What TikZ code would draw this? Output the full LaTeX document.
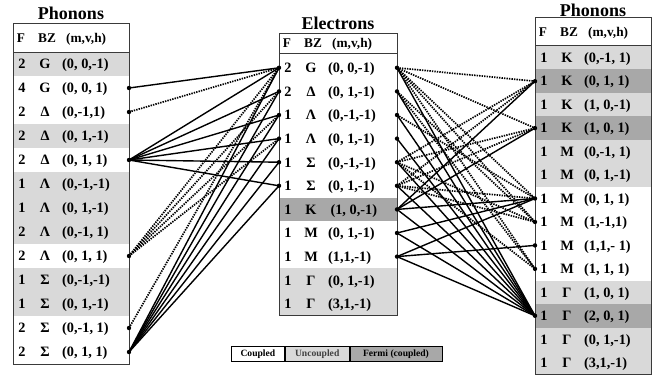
\documentclass[tikz,border=0pt]{standalone}
\usepackage{fontspec}
\setmainfont{Liberation Serif}
\usetikzlibrary{calc}
\definecolor{ltg}{HTML}{D9D9D9}
\definecolor{dkg}{HTML}{A8A8A8}
\definecolor{frame}{HTML}{3A3A3A}

\tikzset{
  cell/.style={inner sep=0pt, font=\fontsize{14.3}{15}\selectfont\bfseries},
  head/.style={inner sep=0pt, font=\fontsize{13.3}{14}\selectfont\bfseries},
  ttl/.style={inner sep=0pt, font=\fontsize{18}{20}\selectfont\bfseries},
  lgd/.style={inner sep=0pt, font=\fontsize{9.6}{10}\selectfont\bfseries},
  frm/.style={draw=frame, line width=1pt},
  cpl/.style={line width=1.4pt},
  ucp/.style={line width=1.7pt, dash pattern=on 1.4pt off 1.1pt},
}

% table geometry: left x, top of first data row, row height, width
\newcommand\tabset[4]{\def\tabx{#1}\def\taby{#2}\def\tabh{#3}\def\tabw{#4}}
% one data row: name, index, fill, F, BZ, (m,v,h)
\newcommand\trow[6]{%
  \pgfmathsetmacro\ytop{\taby+(#2-1)*\tabh}%
  \pgfmathsetmacro\ymid{\ytop+\tabh/2}%
  \fill[#3] (\tabx,\ytop) rectangle ++(\tabw,\tabh);
  \node[cell,anchor=base] (#1f) at (\tabx+9,\ymid+4.8) {#4};
  \node[cell,anchor=base] (#1b) at (\tabx+32,\ymid+4.8) {#5};
  \node[cell,anchor=base west] (#1c) at (\tabx+49,\ymid+4.8) {#6};
  \coordinate (#1w) at (\tabx,\ymid);
  \coordinate (#1e) at (\tabx+\tabw,\ymid);
}
% header row: name prefix, left x, baseline y
\newcommand\thead[3]{%
  \node[head,anchor=base] (#1hf) at (#2+8,#3) {F};
  \node[head,anchor=base] (#1hb) at (#2+34,#3) {BZ};
  \node[head,anchor=base west] (#1hc) at (#2+53,#3) {(m,v,h)};
}

\begin{document}
\begin{tikzpicture}[x=1pt,y=-1pt]
\useasboundingbox (0,0) rectangle (666,381);

% ---------- left table: phonons ----------
\node[ttl] (ltitle) at (71,13) {Phonons};
\tabset{13}{52}{24}{116}
\trow{L1}{1}{ltg}{2}{G}{(0, 0,-1)}
\trow{L2}{2}{white}{4}{G}{(0, 0, 1)}
\trow{L3}{3}{white}{2}{Δ}{(0,-1,1)}
\trow{L4}{4}{ltg}{2}{Δ}{(0, 1,-1)}
\trow{L5}{5}{white}{2}{Δ}{(0, 1, 1)}
\trow{L6}{6}{ltg}{1}{Λ}{(0,-1,-1)}
\trow{L7}{7}{ltg}{1}{Λ}{(0, 1,-1)}
\trow{L8}{8}{ltg}{2}{Λ}{(0,-1, 1)}
\trow{L9}{9}{white}{2}{Λ}{(0, 1, 1)}
\trow{L10}{10}{ltg}{1}{Σ}{(0,-1,-1)}
\trow{L11}{11}{ltg}{1}{Σ}{(0, 1,-1)}
\trow{L12}{12}{white}{2}{Σ}{(0,-1, 1)}
\trow{L13}{13}{white}{2}{Σ}{(0, 1, 1)}
\thead{L}{13}{42}
\draw[frm] (13,52) -- (129,52);
\draw[frm] (13,23) rectangle (129,364);

% ---------- middle table: electrons ----------
\node[ttl] (mtitle) at (338,23) {Electrons};
\tabset{279}{56}{23.6}{118}
\trow{E1}{1}{white}{2}{G}{(0, 0,-1)}
\trow{E2}{2}{white}{2}{Δ}{(0, 1,-1)}
\trow{E3}{3}{white}{1}{Λ}{(0,-1,-1)}
\trow{E4}{4}{white}{1}{Λ}{(0, 1,-1)}
\trow{E5}{5}{white}{1}{Σ}{(0,-1,-1)}
\trow{E6}{6}{white}{1}{Σ}{(0, 1,-1)}
\trow{E7}{7}{dkg}{1}{K}{\,(1, 0,-1)}
\trow{E8}{8}{white}{1}{M}{(0, 1,-1)}
\trow{E9}{9}{white}{1}{M}{(1,1,-1)}
\trow{E10}{10}{ltg}{1}{Γ}{(0, 1,-1)}
\trow{E11}{11}{ltg}{1}{Γ}{(3,1,-1)}
\thead{E}{279}{47.5}
\draw[frm] (279,53) -- (397,53);
\draw[frm] (279,33) rectangle (397,315.6);

% ---------- right table: phonons ----------
\node[ttl] (rtitle) at (593,10) {Phonons};
\tabset{535}{46}{23.46}{116}
\trow{R1}{1}{ltg}{1}{K}{(0,-1, 1)}
\trow{R2}{2}{dkg}{1}{K}{(0, 1, 1)}
\trow{R3}{3}{ltg}{1}{K}{(1, 0,-1)}
\trow{R4}{4}{dkg}{1}{K}{(1, 0, 1)}
\trow{R5}{5}{ltg}{1}{M}{(0,-1, 1)}
\trow{R6}{6}{ltg}{1}{M}{(0, 1,-1)}
\trow{R7}{7}{white}{1}{M}{(0, 1, 1)}
\trow{R8}{8}{white}{1}{M}{(1,-1,1)}
\trow{R9}{9}{white}{1}{M}{(1,1,- 1)}
\trow{R10}{10}{white}{1}{M}{(1, 1, 1)}
\trow{R11}{11}{ltg}{1}{Γ}{(1, 0, 1)}
\trow{R12}{12}{dkg}{1}{Γ}{(2, 0, 1)}
\trow{R13}{13}{ltg}{1}{Γ}{(0, 1,-1)}
\trow{R14}{14}{ltg}{1}{Γ}{(3,1,-1)}
\thead{R}{535}{36}
\draw[frm] (535,45) -- (651,45);
\draw[frm] (535,17) rectangle (651,374.5);

% ---------- phonon (left) to electron couplings ----------
\draw[cpl] (L2e) -- (E1w);
\draw[ucp] (L3e) -- (E1w);
\foreach \e in {1,...,6} \draw[cpl] (L5e) -- (E\e w);
\foreach \e in {1,...,4} \draw[ucp] (L9e) -- (E\e w);
\draw[ucp] (L12e) -- (E1w);
\foreach \e in {1,...,6} \draw[cpl] (L13e) -- (E\e w);

% ---------- electron to phonon (right) couplings ----------
\foreach \r in {2,4,7,8,10} \draw[ucp] (E1e) -- (R\r w);
\foreach \r in {8,10} \draw[ucp] (E2e) -- (R\r w);
\draw[ucp] (E3e) -- (R7w);
\foreach \r in {2,4,8,10} \draw[ucp] (E5e) -- (R\r w);
\foreach \r in {2,4,7,8} \draw[ucp] (E6e) -- (R\r w);
\foreach \e in {1,...,9} \draw[cpl] (E\e e) -- (R12w);
\foreach \r in {2,4,7} \draw[cpl] (E7e) -- (R\r w);
\draw[cpl] (E8e) -- (R7w);
\foreach \r in {7,9} \draw[cpl] (E9e) -- (R\r w);

% ---------- end dots ----------
\foreach \p in {L2e,L3e,L5e,L9e,L12e,L13e,E1w,E2w,E3w,E4w,E5w,E6w,
  E1e,E2e,E3e,E4e,E5e,E6e,E7e,E8e,E9e,R2w,R4w,R7w,R8w,R9w,R10w,R12w}
  \fill (\p) circle (2.2);

% ---------- legend ----------
\node[draw=black, line width=0.8pt, fill=white, minimum width=53pt, minimum height=15pt, lgd, anchor=north west] (kc) at (231,346) {Coupled};
\node[draw=black, line width=0.8pt, fill=ltg, minimum width=64pt, minimum height=15pt, lgd, anchor=north west, text=black!75] (ku) at (kc.north east) {Uncoupled};
\node[draw=black, line width=0.8pt, fill=dkg, minimum width=92pt, minimum height=15pt, lgd, anchor=north west] (kf) at (ku.north east) {Fermi (coupled)};
\end{tikzpicture}
\end{document}
